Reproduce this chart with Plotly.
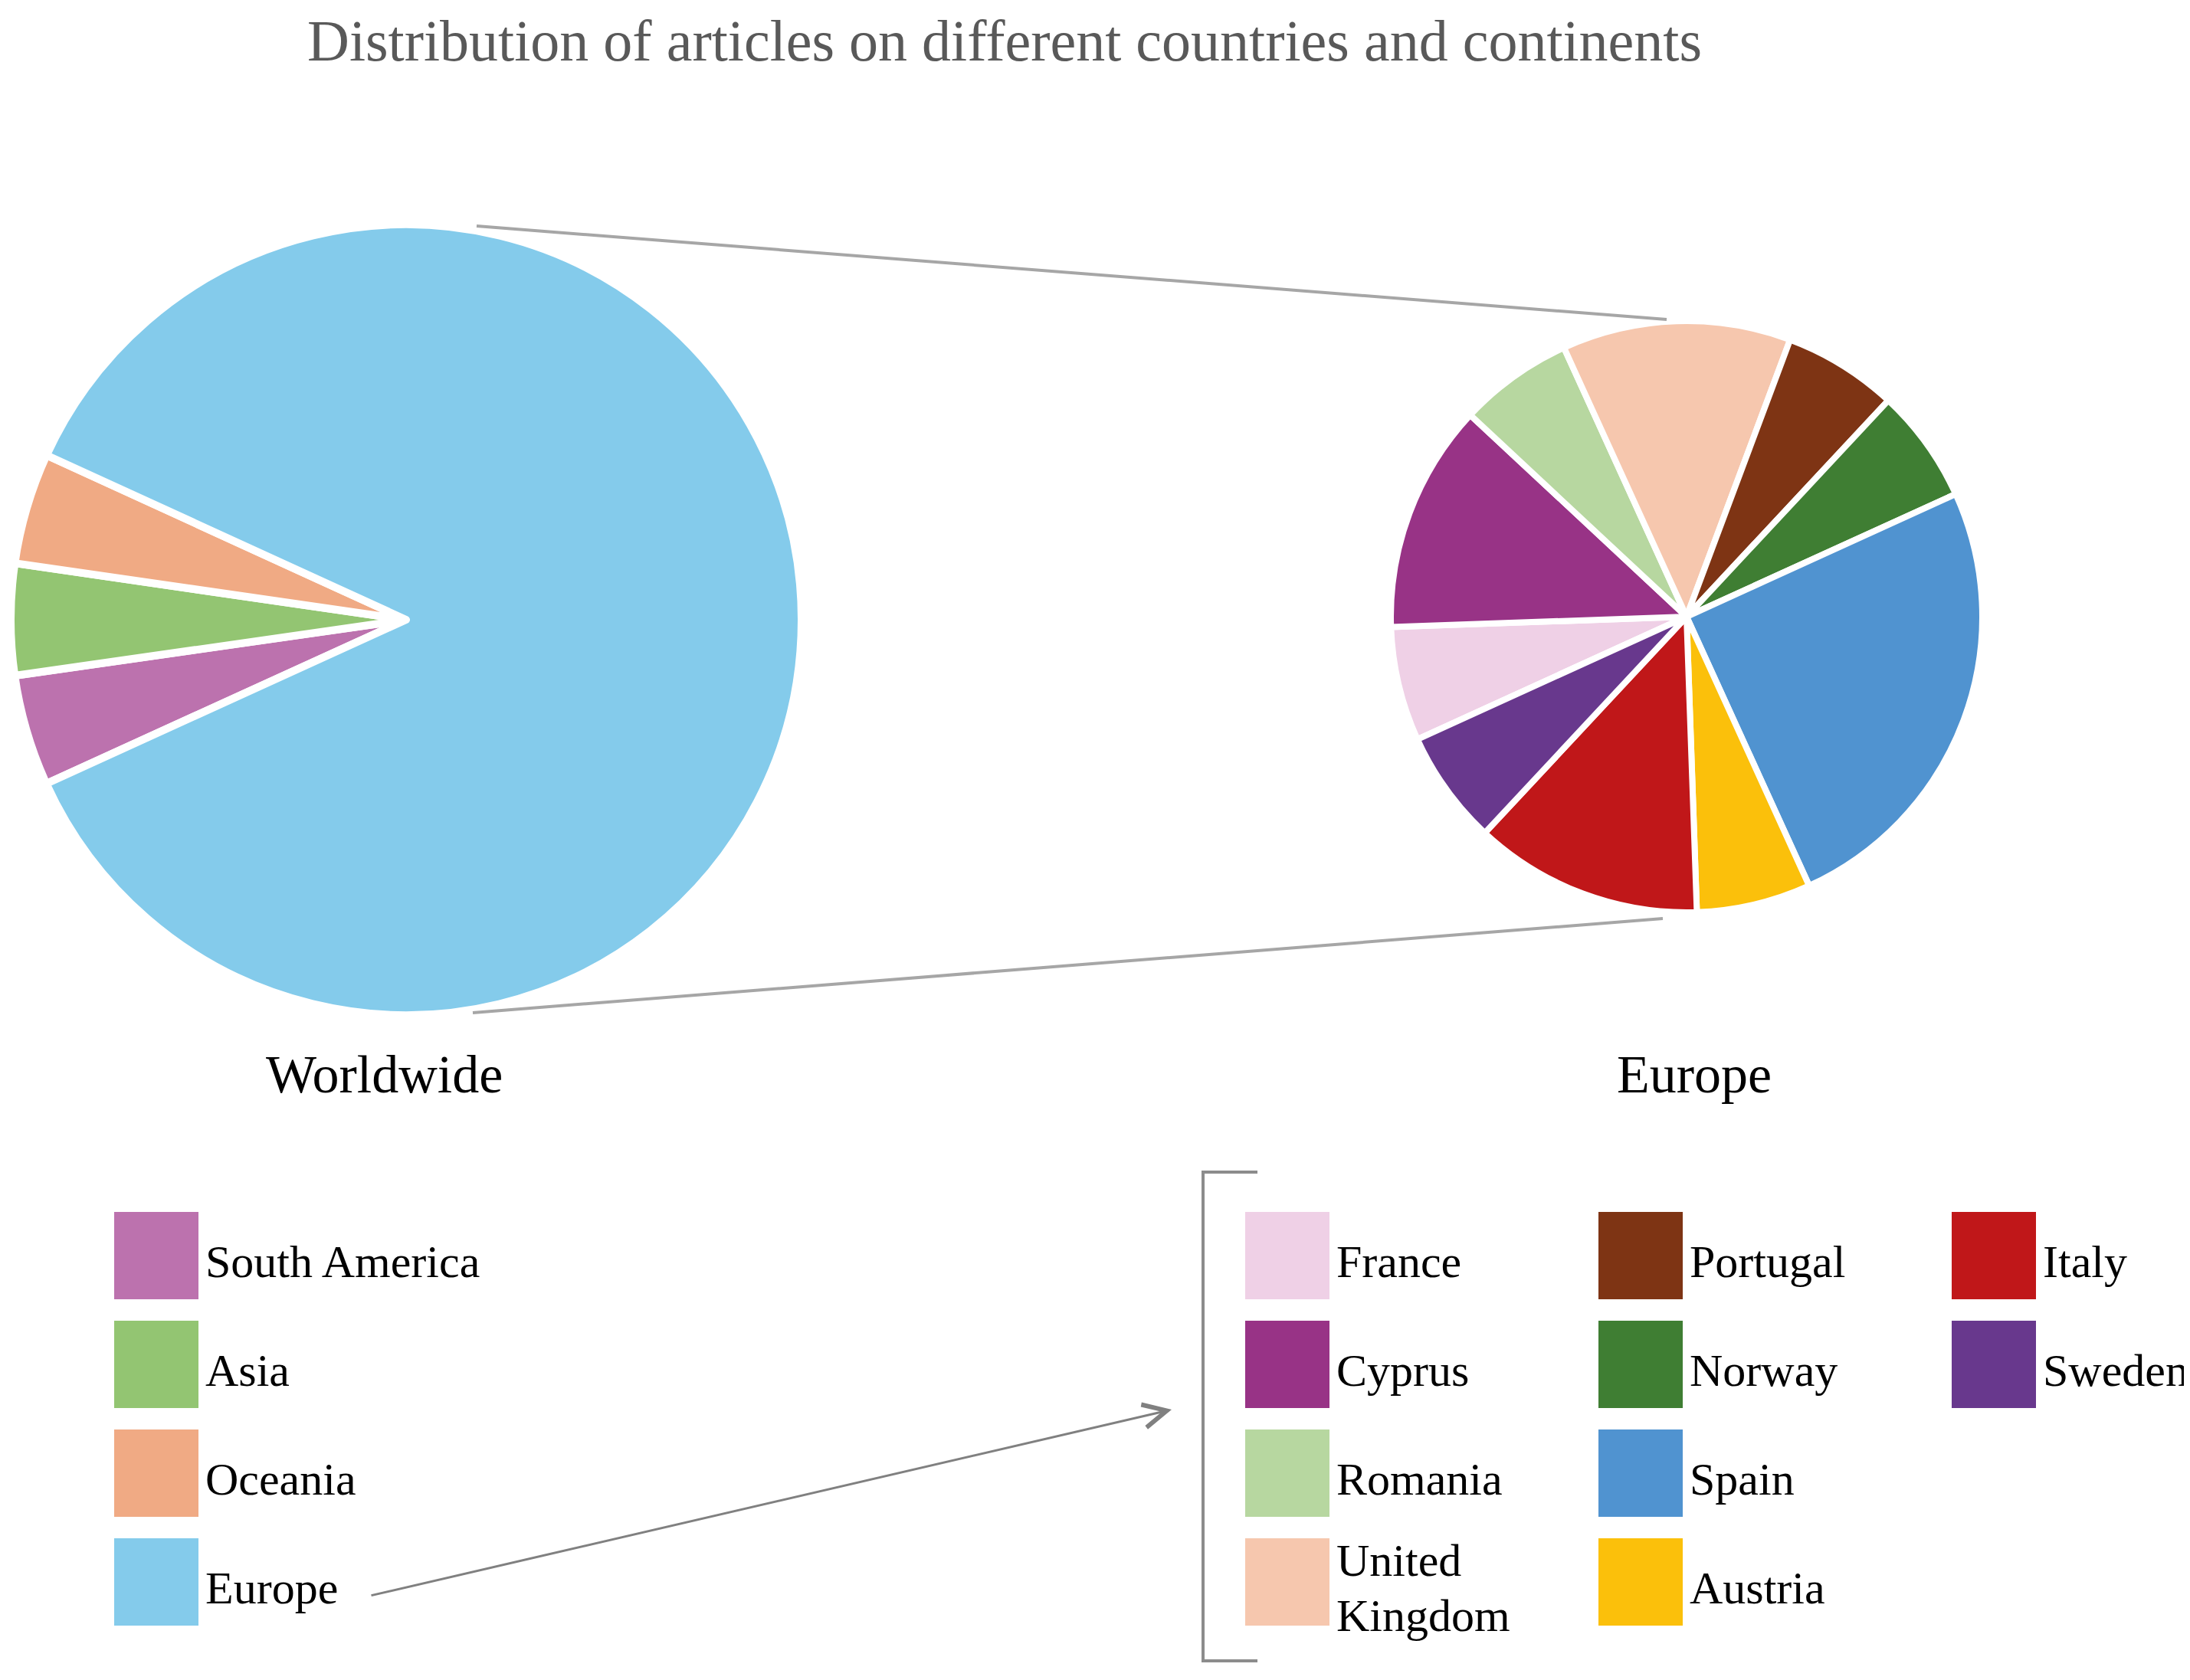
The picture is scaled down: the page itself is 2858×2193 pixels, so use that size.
import plotly.graph_objects as go

W, H = 2858, 2193
PAD = 8  # 页面 body 默认 8px 边距
FW, FH = W - PAD, H - PAD

# 数据
world_labels = ['South America', 'Asia', 'Oceania', 'Europe']
world_values = [1, 1, 1, 19]
world_colors = ['#BC72AE', '#93C572', '#F0AA84', '#84CBEB']

europe_labels = ['France', 'Cyprus', 'Romania', 'United Kingdom',
                 'Portugal', 'Norway', 'Spain', 'Austria',
                 'Italy', 'Sweden']
europe_values = [1, 2, 1, 2, 1, 1, 4, 1, 2, 1]
europe_colors = ['#EFD0E6', '#983386', '#B7D7A0', '#F6C7AE',
                 '#7E3414', '#3F7E33', '#5093D0', '#FBC00B',
                 '#C01719', '#68388D']

FONT = 'Liberation Serif, Times New Roman, serif'


def px(x):
    return (x - PAD) / FW


def py(y):
    return 1 - (y - PAD) / FH


def pie_domain(cx, cy, r):
    return dict(x=[px(cx - r), px(cx + r)], y=[py(cy + r), py(cy - r)])


fig = go.Figure()

# 饼图
fig.add_trace(go.Pie(
    labels=world_labels, values=world_values,
    marker=dict(colors=world_colors, line=dict(color='white', width=10)),
    sort=False, direction='clockwise', rotation=245.5,
    textinfo='none', showlegend=False,
    domain=pie_domain(530, 809, 516),
))
fig.add_trace(go.Pie(
    labels=europe_labels, values=europe_values,
    marker=dict(colors=europe_colors, line=dict(color='white', width=8)),
    sort=False, direction='clockwise', rotation=245.5,
    textinfo='none', showlegend=False,
    domain=pie_domain(2201, 805, 386),
))

shapes = []
annotations = []

# 连接线
grey = '#A6A6A6'
shapes.append(dict(type='line', xref='paper', yref='paper',
                   x0=px(622), y0=py(295), x1=px(2175), y1=py(417),
                   line=dict(color=grey, width=4)))
shapes.append(dict(type='line', xref='paper', yref='paper',
                   x0=px(617), y0=py(1322), x1=px(2170), y1=py(1199),
                   line=dict(color=grey, width=4)))

# 括号
bk = '#8C8C8C'
shapes.append(dict(type='path', xref='paper', yref='paper',
                   path=f'M {px(1641)},{py(1530)} L {px(1570)},{py(1530)} '
                        f'L {px(1570)},{py(2168)} L {px(1641)},{py(2168)}',
                   line=dict(color=bk, width=4)))

# 箭头
annotations.append(dict(x=px(1529), y=py(1840), xref='paper', yref='paper',
                        ax=483 - 1529, ay=2083 - 1840, axref='pixel', ayref='pixel',
                        text='', showarrow=True, arrowhead=5, arrowsize=2,
                        arrowwidth=3, arrowcolor='#808080'))

# 标题与标签
annotations.append(dict(x=px(1311), y=py(53), xref='paper', yref='paper',
                        text='Distribution of articles on different countries and continents',
                        showarrow=False, font=dict(family=FONT, size=76, color='#595959'),
                        xanchor='center', yanchor='middle'))
for txt, cx in [('Worldwide', 501), ('Europe', 2211)]:
    annotations.append(dict(x=px(cx), y=py(1402), xref='paper', yref='paper',
                            text=txt, showarrow=False,
                            font=dict(family=FONT, size=70, color='black'),
                            xanchor='center', yanchor='middle'))

# 图例（手绘大色块）
row_tops = [1582, 1724, 1866, 2008]
sw_w, sw_h = 110, 114


def legend_item(x0, top, color, label):
    shapes.append(dict(type='rect', xref='paper', yref='paper',
                       x0=px(x0), x1=px(x0 + sw_w), y0=py(top + sw_h), y1=py(top),
                       fillcolor=color, line=dict(width=0)))
    cy = top + sw_h / 2 + 8
    lines = label.split(' ') if (' ' in label and label != 'South America') else [label]
    if len(lines) == 1:
        offs = [0]
    else:
        offs = [-36, 36]
    for ln, o in zip(lines, offs):
        annotations.append(dict(x=px(x0 + sw_w + 7), y=py(cy + o), xref='paper', yref='paper',
                                text=ln, showarrow=False,
                                font=dict(family=FONT, size=60, color='black'),
                                xanchor='left', yanchor='middle'))


for i, (lab, col) in enumerate(zip(world_labels, world_colors)):
    legend_item(149, row_tops[i], col, lab)

col_x = [1625, 2086, 2547]
for i, (lab, col) in enumerate(zip(europe_labels, europe_colors)):
    legend_item(col_x[i // 4], row_tops[i % 4], col, lab)

fig.update_layout(
    width=FW, height=FH,
    margin=dict(l=0, r=0, t=0, b=0),
    paper_bgcolor='white', plot_bgcolor='white',
    shapes=shapes, annotations=annotations,
)

fig.write_html('out.html')
